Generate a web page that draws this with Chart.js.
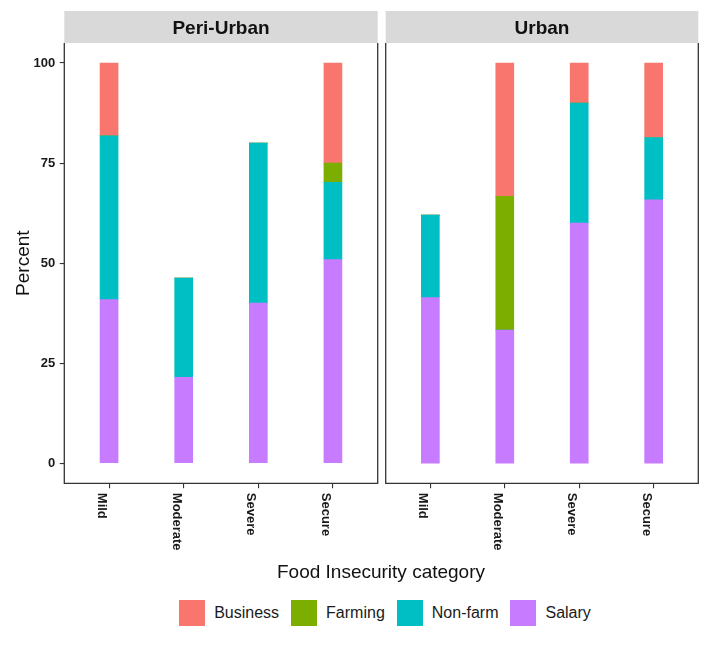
<!DOCTYPE html>
<html>
<head>
<meta charset="utf-8">
<script src="https://cdn.jsdelivr.net/npm/chart.js@4.4.0/dist/chart.umd.min.js"></script>
<style>
body{margin:0;background:#fff;font-family:"Liberation Sans",Arial,sans-serif;}
#wrap{position:relative;width:708px;height:645px;overflow:hidden;}
canvas{position:absolute;top:0;}
#xtitle{position:absolute;left:64px;width:634px;top:560px;height:24px;line-height:24px;text-align:center;font-size:19px;color:#111;}
#legend{position:absolute;left:68px;width:634px;top:600px;height:26px;display:flex;justify-content:center;align-items:center;font-size:16px;color:#1a1a1a;}
.item{display:flex;align-items:center;margin:0 6px;}
.box{width:26px;height:26px;margin-right:9px;}
</style>
</head>
<body>
<div id="wrap">
<canvas id="peri" width="380" height="580" style="left:0"></canvas>
<canvas id="urban" width="328" height="580" style="left:380px"></canvas>
<div id="xtitle">Food Insecurity category</div>
<div id="legend"></div>
</div>
<script>
// data (percent)
var categories = ['Mild', 'Moderate', 'Severe', 'Secure'];
var seriesNames = ['Salary', 'Non-farm', 'Farming', 'Business'];
var seriesColors = ['#C77CFF', '#00BFC4', '#7CAE00', '#F8766D'];

var periSalary   = [40.9, 21.5, 40, 50.9];
var periNonfarm  = [40.9, 24.8, 40, 19.3];
var periFarming  = [0, 0, 0, 4.8];
var periBusiness = [18.2, 0, 0, 25];

var urbanSalary   = [41.4, 33.3, 60, 65.8];
var urbanNonfarm  = [20.6, 0, 30, 15.6];
var urbanFarming  = [0, 33.4, 0, 0];
var urbanBusiness = [0, 33.3, 10, 18.6];

var yTicks = [0, 25, 50, 75, 100];

var FONT = '"Liberation Sans", Arial, sans-serif';

var panelDecor = {
  id: 'panelDecor',
  afterDraw: function(chart) {
    var ctx = chart.ctx, a = chart.chartArea;
    var title = chart.options.plugins.panelDecor.title;
    ctx.save();
    // strip
    ctx.fillStyle = '#d9d9d9';
    ctx.fillRect(a.left, 11, a.right - a.left, a.top - 11);
    ctx.fillStyle = '#111';
    ctx.font = 'bold 19px ' + FONT;
    ctx.textAlign = 'center';
    ctx.textBaseline = 'middle';
    ctx.fillText(title, (a.left + a.right) / 2, 28.5);
    // panel border (no top)
    ctx.strokeStyle = '#333';
    ctx.lineWidth = 1.3;
    ctx.beginPath();
    ctx.moveTo(a.left, a.top);
    ctx.lineTo(a.left, a.bottom);
    ctx.lineTo(a.right, a.bottom);
    ctx.lineTo(a.right, a.top);
    ctx.stroke();
    // x labels, reading top to bottom
    var xs = chart.scales.x;
    ctx.font = 'bold 13px ' + FONT;
    ctx.fillStyle = '#1a1a1a';
    ctx.textAlign = 'left';
    ctx.textBaseline = 'top';
    xs.ticks.forEach(function(t) {
      ctx.save();
      ctx.translate(xs.getPixelForValue(t.value) - 1, a.bottom + 9.5);
      ctx.rotate(Math.PI / 2);
      ctx.fillText(categories[t.value - 1], 0, 0);
      ctx.restore();
    });
    ctx.restore();
  }
};

function makePanel(id, title, series, showY, padL, padR) {
  var datasets = series.map(function(vals, k) {
    return {
      label: seriesNames[k],
      data: vals.map(function(v, i) { return {x: i + 1, y: v}; }),
      backgroundColor: seriesColors[k],
      borderWidth: 0,
      barThickness: 18
    };
  });
  return new Chart(document.getElementById(id), {
    type: 'bar',
    data: {datasets: datasets},
    plugins: [panelDecor],
    options: {
      responsive: false,
      animation: false,
      layout: {padding: {top: 43, left: padL, right: padR, bottom: 0}},
      plugins: {legend: {display: false}, tooltip: {enabled: false}, panelDecor: {title: title}},
      scales: {
        x: {
          type: 'linear', stacked: true, min: 0.4, max: 4.6, offset: false,
          afterBuildTicks: function(s) { s.ticks = categories.map(function(c, i) { return {value: i + 1}; }); },
          afterFit: function(s) { s.height = 96.7; },
          grid: {offset: false, drawOnChartArea: false, tickLength: 5, color: '#333', lineWidth: 1.1},
          border: {display: false},
          ticks: {display: false}
        },
        y: {
          stacked: true, min: -5, max: 105, display: showY,
          afterBuildTicks: function(s) { s.ticks = yTicks.map(function(v) { return {value: v}; }); },
          afterFit: function(s) { s.width = showY ? 64.3 : 0; },
          grid: {drawOnChartArea: false, tickLength: 4.5, color: '#333', lineWidth: 1.1},
          border: {display: false},
          ticks: {padding: 4.5, color: '#1a1a1a', font: {family: FONT, size: 13, weight: 'bold'}},
          title: {display: true, text: 'Percent', color: '#111', font: {family: FONT, size: 19}, padding: {top: 12, bottom: 0}}
        }
      }
    }
  });
}

makePanel('peri', 'Peri-Urban', [periSalary, periNonfarm, periFarming, periBusiness], true, 0, 2.3);
makePanel('urban', 'Urban', [urbanSalary, urbanNonfarm, urbanFarming, urbanBusiness], false, 5.7, 9.7);

// legend, ordered like the reference
var legend = document.getElementById('legend');
for (var k = seriesNames.length - 1; k >= 0; k--) {
  var item = document.createElement('div');
  item.className = 'item';
  item.innerHTML = '<div class="box" style="background:' + seriesColors[k] + '"></div><span>' + seriesNames[k] + '</span>';
  legend.appendChild(item);
}
</script>
</body>
</html>
